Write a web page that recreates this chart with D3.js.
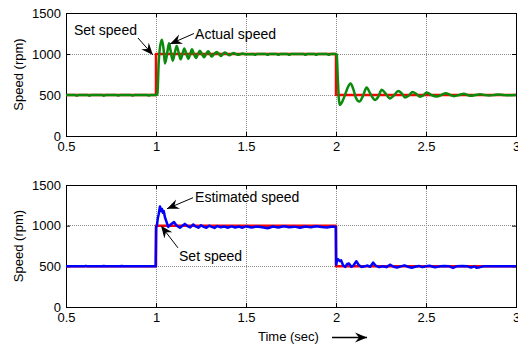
<!DOCTYPE html>
<html>
<head>
<meta charset="utf-8">
<script src="https://cdn.jsdelivr.net/npm/d3@7"></script>
<style>
  body { margin: 0; background: #fff; }
  svg { font-family: Arial, "Liberation Sans", sans-serif; display: block; }
</style>
</head>
<body>
<div id="chart"></div>
<script>
// set speed (both panels)
var setTime = [0.5, 1, 1, 2, 2, 3];
var setSpeed = [500, 500, 1000, 1000, 500, 500];

// actual speed (top panel)
var actualTime = [0.5, 0.55, 0.56, 0.57, 0.62, 0.63, 0.64, 0.7, 0.71, 0.72, 0.78, 0.79, 0.8, 0.86, 0.87, 0.88, 0.95, 0.96, 0.97,
  1.003, 1.008, 1.015, 1.022, 1.033, 1.042, 1.05, 1.06, 1.072, 1.082, 1.093, 1.104, 1.115, 1.126, 1.137, 1.147, 1.157, 1.168,
  1.18, 1.19, 1.2, 1.21, 1.222, 1.233, 1.244, 1.255, 1.267, 1.278, 1.29, 1.3, 1.31, 1.323, 1.337, 1.35, 1.36, 1.372, 1.383,
  1.396, 1.407, 1.42, 1.43, 1.445, 1.46, 1.48, 1.5, 1.54, 1.55, 1.56, 1.61, 1.62, 1.63, 1.67, 1.68, 1.69, 1.73, 1.74, 1.75,
  1.82, 1.83, 1.84, 1.88, 1.89, 1.9, 1.95, 1.96, 1.97, 2.0,
  2.004, 2.01, 2.016, 2.022, 2.035, 2.05, 2.065, 2.081, 2.095, 2.11, 2.13, 2.15, 2.17, 2.19, 2.217, 2.235, 2.254, 2.275,
  2.3, 2.32, 2.346, 2.365, 2.383, 2.405, 2.426, 2.445, 2.467, 2.485, 2.504, 2.53, 2.56, 2.585, 2.61, 2.635, 2.655, 2.685,
  2.71, 2.73, 2.75, 2.775, 2.8, 2.825, 2.85, 2.88, 2.9, 2.93, 2.95, 3.0];
var actualSpeed = [500, 500, 492, 500, 500, 492, 500, 500, 492, 500, 500, 493, 500, 500, 493, 500, 500, 494, 500,
  500, 520, 900, 1080, 1175, 1060, 885, 980, 1130, 1030, 918, 1010, 1097, 1015, 935, 1000, 1068, 1005,
  943, 1000, 1057, 1005, 951, 1000, 1040, 1000, 960, 1000, 1033, 1000, 968, 1000, 1024, 1000, 975, 1000, 1018,
  1000, 985, 1000, 1012, 998, 990, 1005, 996, 1000, 990, 1000, 1000, 990, 1000, 1000, 991, 1000, 1000, 990, 1000,
  1000, 990, 1000, 1000, 991, 1000, 1000, 990, 1000, 1000,
  990, 700, 450, 378, 420, 500, 590, 640, 580, 470, 420, 490, 590, 520, 440, 480, 565, 520,
  458, 490, 550, 520, 470, 495, 538, 515, 478, 495, 530, 500, 482, 500, 522, 500, 486, 500,
  515, 500, 490, 500, 510, 500, 494, 500, 506, 500, 496, 500];

// estimated speed (bottom panel)
var estTime = [0.5, 0.6, 0.61, 0.62, 0.7, 0.71, 0.72, 0.8, 0.81, 0.82, 0.998,
  1.001, 1.005, 1.01, 1.015, 1.022, 1.028, 1.033, 1.038, 1.043, 1.05, 1.058, 1.068, 1.08, 1.1, 1.115, 1.133, 1.147, 1.16,
  1.175, 1.19, 1.207, 1.22, 1.235, 1.25, 1.265, 1.28, 1.295, 1.31, 1.325, 1.34, 1.36, 1.38, 1.4, 1.42, 1.44, 1.46, 1.48,
  1.5, 1.53, 1.56, 1.59, 1.62, 1.65, 1.68, 1.71, 1.74, 1.77, 1.8, 1.83, 1.86, 1.89, 1.92, 1.95, 1.98, 1.999,
  2.001, 2.006, 2.012, 2.02, 2.028, 2.04, 2.052, 2.062, 2.072, 2.085, 2.095, 2.113, 2.125, 2.14, 2.16, 2.175, 2.19, 2.206,
  2.22, 2.24, 2.26, 2.28, 2.3, 2.32, 2.34, 2.36, 2.38, 2.4, 2.42, 2.44, 2.46, 2.48, 2.5, 2.52, 2.55, 2.58, 2.6, 2.63,
  2.65, 2.67, 2.7, 2.73, 2.75, 2.77, 2.78, 2.8, 2.82, 3.0];
var estSpeed = [500, 500, 506, 500, 500, 505, 500, 500, 505, 500, 500,
  980, 1000, 1090, 1140, 1237, 1180, 1205, 1160, 1180, 1100, 1050, 985, 1010, 1044, 1000, 975, 1000, 1022,
  995, 978, 1015, 990, 975, 1005, 985, 975, 1000, 985, 972, 995, 980, 990, 975, 992, 978, 990, 975,
  992, 978, 990, 980, 968, 990, 978, 992, 980, 988, 975, 990, 980, 992, 985, 978, 990, 985,
  520, 580, 588, 565, 575, 510, 493, 530, 534, 495, 505, 563, 520, 493, 500, 510, 495, 546,
  510, 490, 500, 490, 520, 495, 485, 500, 512, 495, 483, 495, 505, 490, 500, 508, 488, 500, 505, 500,
  480, 500, 503, 500, 485, 500, 483, 490, 500, 500];

var xTicks = [0.5, 1, 1.5, 2, 2.5, 3];
var yTicks = [0, 500, 1000, 1500];

var W = 518, H = 347;
var margin = { left: 66, right: 2 };
var width = W - margin.left - margin.right;

var svg = d3.select("#chart").append("svg")
  .attr("width", W).attr("height", H);

var defs = svg.append("defs");
defs.append("marker")
  .attr("id", "head")
  .attr("viewBox", "-12 -6 13 12")
  .attr("refX", 0).attr("refY", 0)
  .attr("markerWidth", 13).attr("markerHeight", 12)
  .attr("markerUnits", "userSpaceOnUse")
  .attr("orient", "auto")
  .append("path")
  .attr("d", "M0,0 L-12,-5 L-8,0 L-12,5 Z")
  .attr("fill", "#000");

var x = d3.scaleLinear().domain([0.5, 3]).range([0, width]);

function zip(t, v) { return t.map(function (d, i) { return [d, v[i]]; }); }

function panel(top, height, idx, series, notes) {
  var y = d3.scaleLinear().domain([0, 1500]).range([height, 0]);
  var g = svg.append("g").attr("transform", "translate(" + margin.left + "," + top + ")");

  defs.append("clipPath").attr("id", "clip" + idx)
    .append("rect").attr("width", width).attr("height", height);

  // grid
  g.append("g").attr("class", "grid")
    .selectAll("line.gx").data(xTicks.slice(1, -1)).enter().append("line")
    .attr("x1", function (d) { return x(d); }).attr("x2", function (d) { return x(d); })
    .attr("y1", 0).attr("y2", height);
  g.select(".grid")
    .selectAll("line.gy").data(yTicks.slice(1, -1)).enter().append("line")
    .attr("y1", function (d) { return y(d); }).attr("y2", function (d) { return y(d); })
    .attr("x1", 0).attr("x2", width);
  g.selectAll(".grid line")
    .attr("stroke", "#8a8a8a").attr("stroke-width", 1)
    .attr("stroke-dasharray", "1,1").attr("shape-rendering", "crispEdges");

  // axes (ticks inside, like MATLAB)
  var xa = g.append("g").attr("transform", "translate(0," + height + ")")
    .call(d3.axisBottom(x).tickValues(xTicks).tickFormat(d3.format("")).tickSize(-4).tickPadding(5));
  var ya = g.append("g")
    .call(d3.axisLeft(y).tickValues(yTicks).tickFormat(d3.format("d")).tickSize(-4).tickPadding(5));
  g.append("g").call(d3.axisTop(x).tickValues(xTicks).tickSize(-4).tickFormat(""));
  g.append("g").attr("transform", "translate(" + width + ",0)")
    .call(d3.axisRight(y).tickValues(yTicks).tickSize(-4).tickFormat(""));
  g.selectAll(".domain").remove();
  g.selectAll(".tick line").attr("stroke", "#000");
  g.selectAll(".tick text").attr("font-size", 13).attr("fill", "#000")
    .attr("font-family", "Arial, 'Liberation Sans', sans-serif");
  xa.selectAll(".tick text").attr("dy", "0.8em");

  g.append("rect").attr("width", width).attr("height", height)
    .attr("fill", "none").attr("stroke", "#000").attr("stroke-width", 1)
    .attr("shape-rendering", "crispEdges");

  var plot = g.append("g").attr("clip-path", "url(#clip" + idx + ")");
  series.forEach(function (s) {
    var line = d3.line().curve(s.curve || d3.curveLinear)
      .x(function (d) { return x(d[0]); }).y(function (d) { return y(d[1]); });
    plot.append("path").datum(zip(s.t, s.v))
      .attr("d", line).attr("fill", "none")
      .attr("stroke", s.color).attr("stroke-width", s.w)
      .attr("stroke-linejoin", "round");
  });

  g.append("text").attr("transform", "translate(" + (18 - margin.left) + "," + (height / 2) + ") rotate(-90)")
    .attr("text-anchor", "middle").attr("dy", "0.35em").attr("font-size", 13).text("Speed (rpm)");

  notes.forEach(function (n) {
    g.append("text").attr("x", x(n.tx)).attr("y", y(n.ty)).attr("font-size", 14).text(n.text);
    g.append("line")
      .attr("x1", x(n.from[0])).attr("y1", y(n.from[1]))
      .attr("x2", x(n.to[0])).attr("y2", y(n.to[1]))
      .attr("stroke", "#000").attr("stroke-width", 1)
      .attr("marker-end", "url(#head)");
  });
  return g;
}

panel(13, 123, 0, [
  { t: setTime, v: setSpeed, color: "#ff0000", w: 2.5 },
  { t: actualTime, v: actualSpeed, color: "#0b8a0b", w: 2.5, curve: d3.curveMonotoneX }
], [
  { text: "Set speed", tx: 0.544, ty: 1232, from: [0.9, 1195], to: [0.983, 988] },
  { text: "Actual speed", tx: 1.217, ty: 1189, from: [1.211, 1250], to: [1.078, 1122] }
]);

panel(185, 122, 1, [
  { t: setTime, v: setSpeed, color: "#ff0000", w: 2.5 },
  { t: estTime, v: estSpeed, color: "#0000ff", w: 2.5 }
], [
  { text: "Estimated speed", tx: 1.217, ty: 1286, from: [1.206, 1344], to: [1.061, 1208] },
  { text: "Set speed", tx: 1.128, ty: 567, from: [1.122, 727], to: [1.028, 998] }
]);

// x axis label with arrow
svg.append("text").attr("x", 258).attr("y", 341).attr("font-size", 13).text("Time (sec)");
svg.append("line").attr("x1", 332).attr("y1", 337.5).attr("x2", 367).attr("y2", 337.5)
  .attr("stroke", "#000").attr("stroke-width", 1.3).attr("marker-end", "url(#head)");
</script>
</body>
</html>
